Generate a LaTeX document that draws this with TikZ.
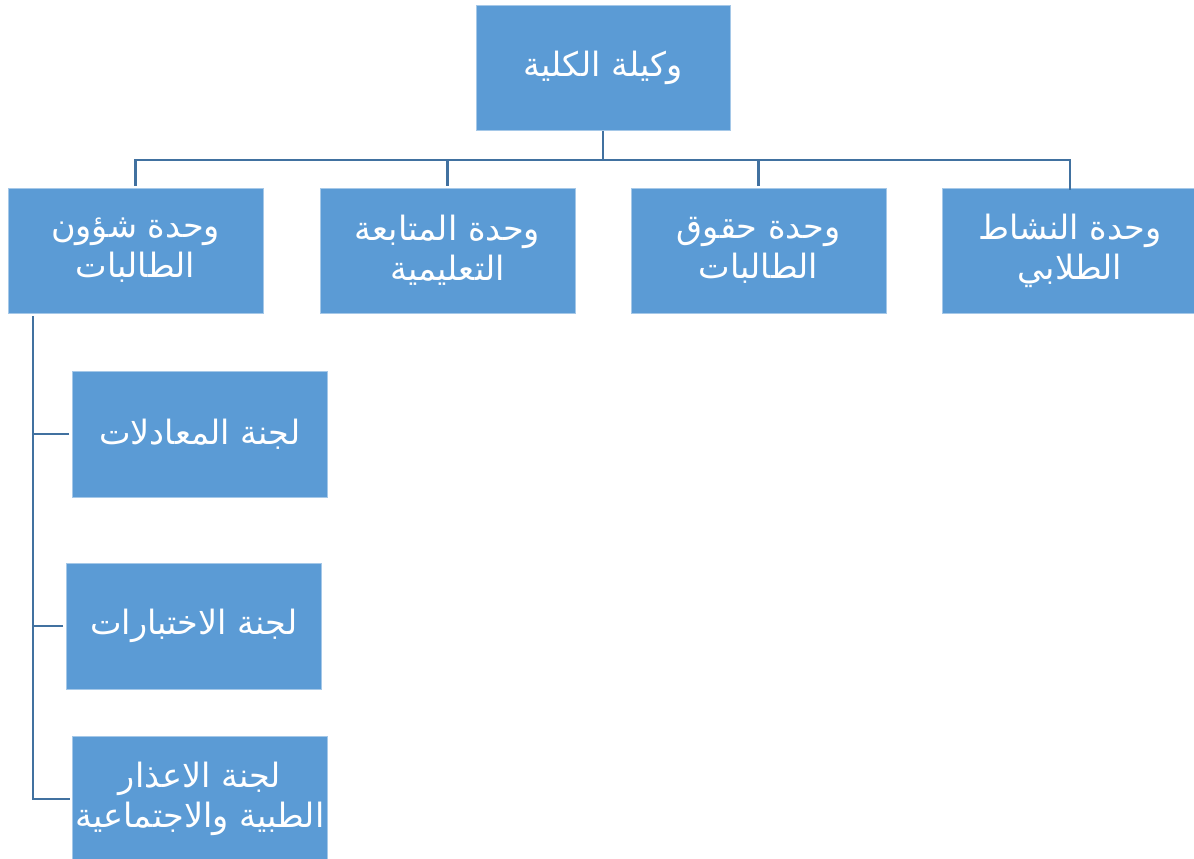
\documentclass[tikz,border=0pt]{standalone}
\usepackage{fontspec}
\newfontfamily\arabicfont[Script=Arabic]{DejaVu Sans}
\TeXXeTstate=1
\definecolor{boxblue}{RGB}{91,155,213}
\definecolor{connblue}{RGB}{65,113,160}
\tikzset{
  orgbox/.style={rectangle, fill=boxblue, draw=white!45!boxblue, line width=0.8pt,
    text=white, align=center, inner sep=0pt,
    minimum width=255pt, minimum height=125pt,
    font=\arabicfont\fontsize{33.5}{40}\selectfont},
  conn/.style={draw=connblue, line width=2.6pt}
}
\begin{document}
\begin{tikzpicture}[x=1pt,y=-1pt]
\useasboundingbox[fill=white] (0,0) rectangle (1194,859);
% top
\node[orgbox, minimum width=254pt, minimum height=125pt] (top) at (603,68) {\beginR وكيلة الكلية\endR};
% level 2
\node[orgbox] (b1) at (135.5,250.5) {\beginR وحدة شؤون\endR\\\beginR الطالبات\endR};
\node[orgbox] (b2) at (447.5,250.5) {\beginR وحدة المتابعة\endR\\\beginR التعليمية\endR};
\node[orgbox] (b3) at (758.5,250.5) {\beginR وحدة حقوق\endR\\\beginR الطالبات\endR};
\node[orgbox] (b4) at (1070,250.5) {\beginR وحدة النشاط\endR\\\beginR الطلابي\endR};
% level 3
\node[orgbox, minimum height=126pt] (l1) at (200,434) {\beginR لجنة المعادلات\endR};
\node[orgbox, minimum height=126pt] (l2) at (194,626) {\beginR لجنة الاختبارات\endR};
\node[orgbox, minimum height=126pt] (l3) at (200,799) {\beginR لجنة الاعذار\endR\\\beginR الطبية والاجتماعية\endR};
% connectors
\coordinate (bus) at (603,160);
\coordinate (spine) at (33,317);
\draw[conn] (top.south) -- (bus);
\draw[conn, shorten <=2pt] (b1.north) |- (bus) -| ([yshift=-2pt]b4.north);
\draw[conn, shorten <=2pt] (b2.north) -- (b2.north |- bus);
\draw[conn, shorten <=2pt] (b3.north) -- (b3.north |- bus);
\draw[conn, line cap=rect] (spine) |- ([xshift=-3pt]l3.west);
\draw[conn] ([xshift=-3pt]l1.west) -- (l1.west -| spine);
\draw[conn] ([xshift=-3pt]l2.west) -- (l2.west -| spine);
\end{tikzpicture}
\end{document}
